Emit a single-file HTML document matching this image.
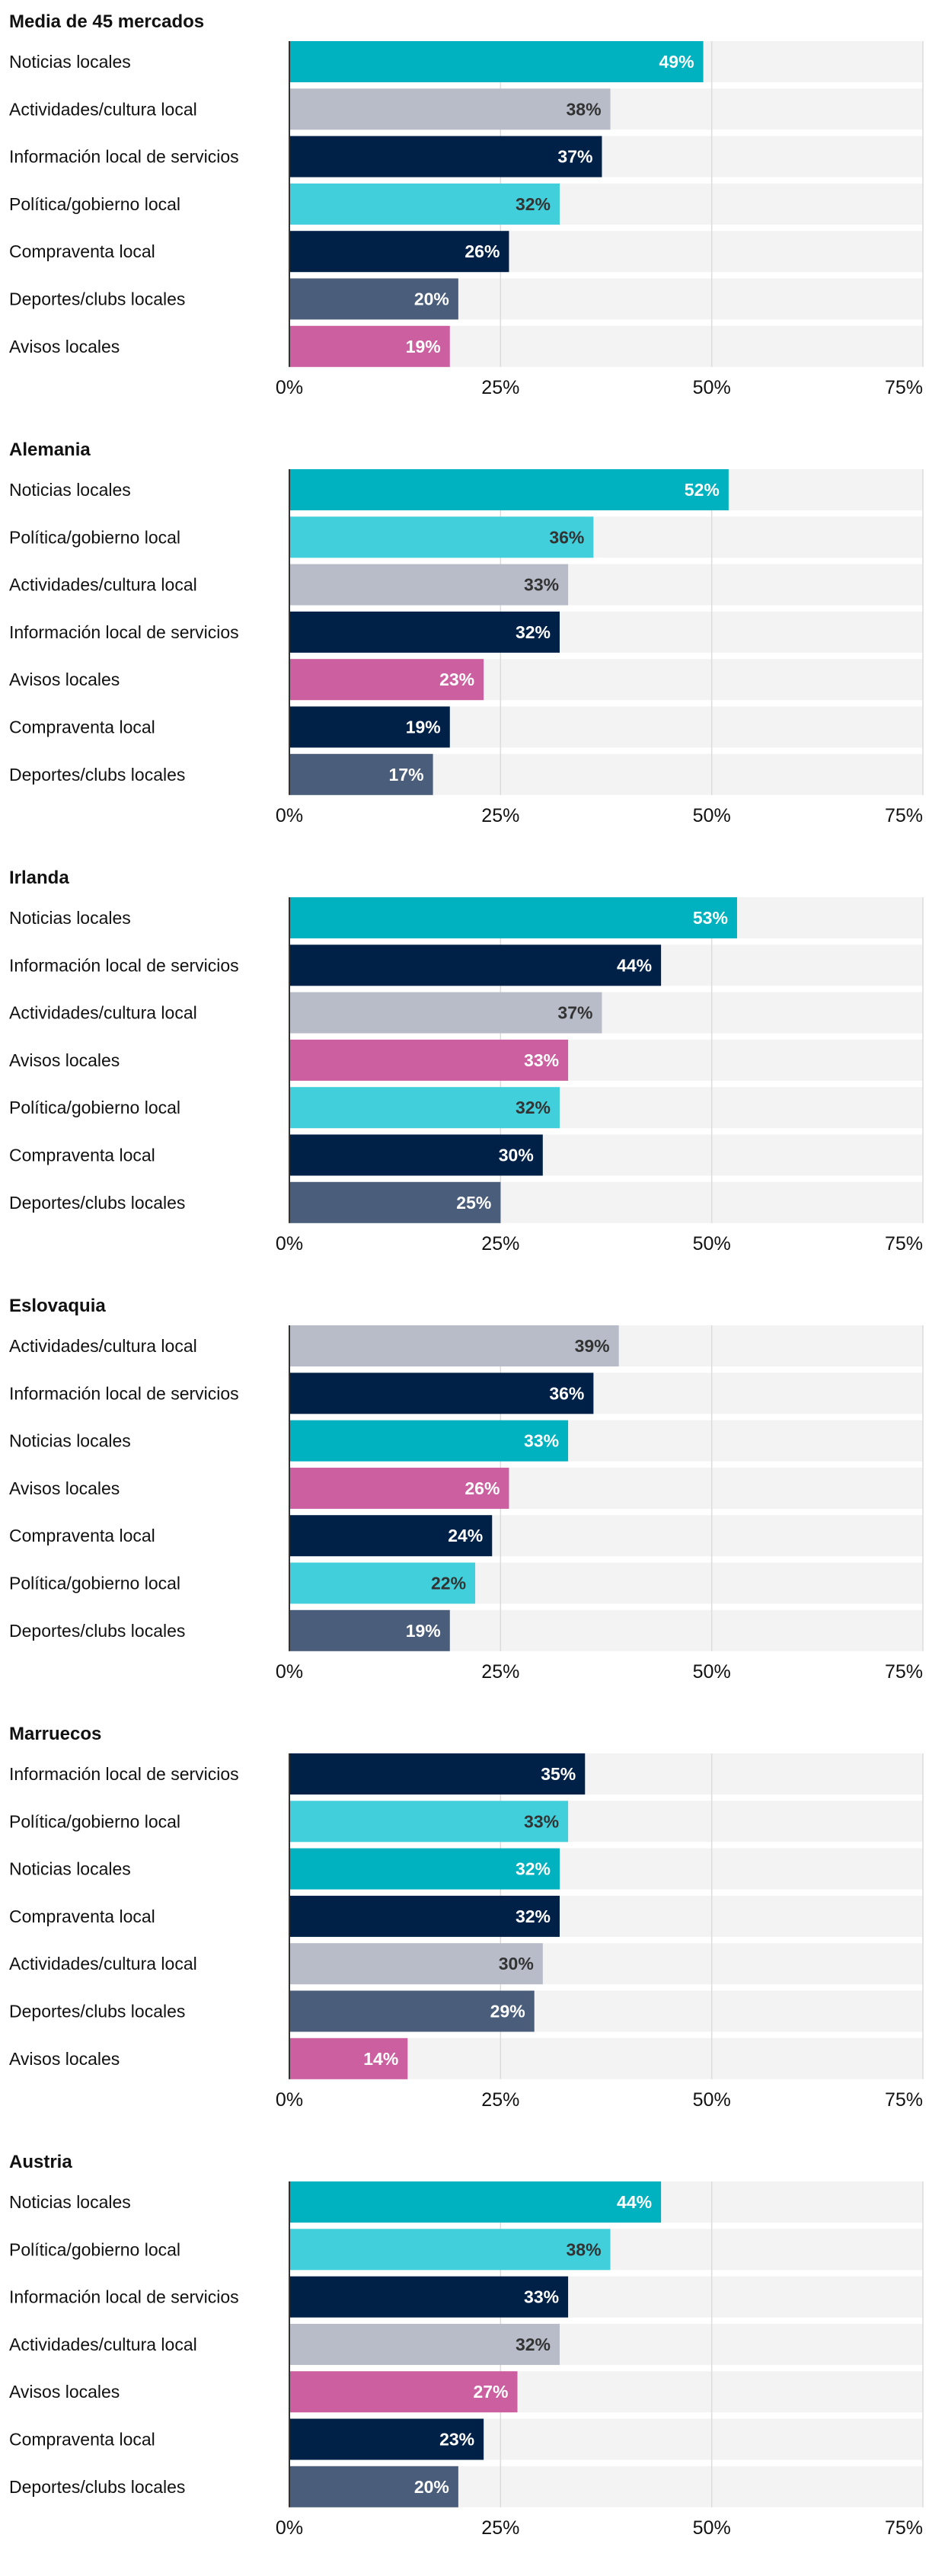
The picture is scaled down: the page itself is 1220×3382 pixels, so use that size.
<!DOCTYPE html>
<html><head><meta charset="utf-8"><style>
html,body{margin:0;padding:0;background:#fff;width:1220px;height:3382px;overflow:hidden}
svg{display:block}
text{font-family:"Liberation Sans",sans-serif}
</style></head><body>
<svg id="c" width="1220" height="3382"></svg>
<script>
const panelTitles=["Media de 45 mercados","Alemania","Irlanda","Eslovaquia","Marruecos","Austria"];
const panelCategories=[
["Noticias locales","Actividades/cultura local","Información local de servicios","Política/gobierno local","Compraventa local","Deportes/clubs locales","Avisos locales"],
["Noticias locales","Política/gobierno local","Actividades/cultura local","Información local de servicios","Avisos locales","Compraventa local","Deportes/clubs locales"],
["Noticias locales","Información local de servicios","Actividades/cultura local","Avisos locales","Política/gobierno local","Compraventa local","Deportes/clubs locales"],
["Actividades/cultura local","Información local de servicios","Noticias locales","Avisos locales","Compraventa local","Política/gobierno local","Deportes/clubs locales"],
["Información local de servicios","Política/gobierno local","Noticias locales","Compraventa local","Actividades/cultura local","Deportes/clubs locales","Avisos locales"],
["Noticias locales","Política/gobierno local","Información local de servicios","Actividades/cultura local","Avisos locales","Compraventa local","Deportes/clubs locales"]];
const panelValues=[
[49,38,37,32,26,20,19],
[52,36,33,32,23,19,17],
[53,44,37,33,32,30,25],
[39,36,33,26,24,22,19],
[35,33,32,32,30,29,14],
[44,38,33,32,27,23,20]];
const tickValues=[0,25,50,75];
const catColor={"Noticias locales":["#00b2bf","#fff"],"Actividades/cultura local":["#b7bcc8","#333"],"Información local de servicios":["#002147","#fff"],"Política/gobierno local":["#41cfdb","#333"],"Compraventa local":["#002147","#fff"],"Deportes/clubs locales":["#4a5d7a","#fff"],"Avisos locales":["#cc5f9f","#fff"]};
const NS="http://www.w3.org/2000/svg";
const svg=document.getElementById('c');
const X0=380,XMAX=75,XW=1212-380;
const x=v=>X0+v/XMAX*XW;
const PANEL=562,BAR_TOP=54,PITCH=62.3,BH=54;
function mk(tag,attrs,parent,txt){const e=document.createElementNS(NS,tag);for(const k in attrs)e.setAttribute(k,attrs[k]);if(txt!=null)e.textContent=txt;parent.appendChild(e);return e;}
panelTitles.forEach((t,p)=>{
  const oy=p*PANEL;
  const g=mk('g',{},svg);
  
  
  const tt=mk('text',{x:12,y:oy+36,'font-size':24,'font-weight':'bold',fill:'#111'},g,t);
  
  
  panelCategories[p].forEach((c,i)=>{
    const y=oy+BAR_TOP+i*PITCH;
    const tr=mk('rect',{x:X0,y:y,width:XW,height:BH,fill:'#f3f3f3'},g);
    
    
  });
  tickValues.slice(1).forEach(v=>{
    const gl=mk('line',{x1:x(v),x2:x(v),y1:oy+BAR_TOP,y2:oy+BAR_TOP+6*PITCH+BH,stroke:'#dcdcdc','stroke-width':1.5},g);
    
    
  });
  panelCategories[p].forEach((c,i)=>{
    const y=oy+BAR_TOP+i*PITCH,v=panelValues[p][i],col=catColor[c];
    const lb=mk('text',{x:12,y:y+BH/2+8,'font-size':23,fill:'#111'},g,c);
    
    
    const r=mk('rect',{x:X0,y:y,width:x(v)-X0,height:BH,fill:col[0]},g);
    
    
    const vl=mk('text',{x:x(v)-12,y:y+BH/2+8,'font-size':23,'font-weight':'bold',fill:col[1],'text-anchor':'end'},g,v+'%');
    
    
  });
  const ax=mk('line',{x1:X0,x2:X0,y1:oy+BAR_TOP,y2:oy+BAR_TOP+6*PITCH+BH,stroke:'#333','stroke-width':2},g);
  
  
  tickValues.forEach((v,i)=>{
    const last=i===tickValues.length-1;
    const tl=mk('text',{x:x(v),y:oy+517,'font-size':25,fill:'#111','text-anchor':last?'end':'middle'},g,v+'%');
    
    
  });
});
</script>
</body></html>
